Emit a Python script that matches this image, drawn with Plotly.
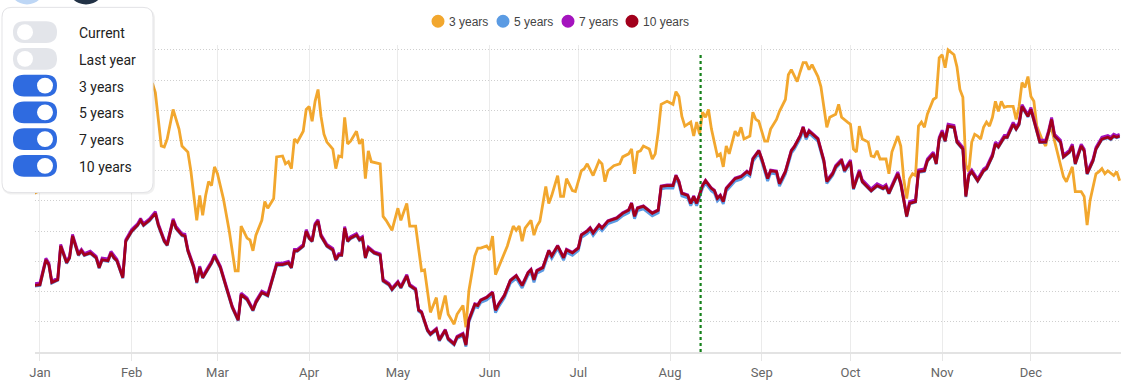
import pandas as pd
import plotly.graph_objects as go

# ---------------- data ----------------
year_start = "2024-01-01"
month_ticks = ["Jan", "Feb", "Mar", "Apr", "May", "Jun", "Jul", "Aug", "Sep", "Oct", "Nov", "Dec"]
series_names = ["3 years", "5 years", "7 years", "10 years"]
toggle_labels = ["Current", "Last year", "3 years", "5 years", "7 years", "10 years"]
toggle_on = [False, False, True, True, True, True]
marker_date = "2024-08-11 08:00"

# day offsets (from Jan 1) for the 5/7/10-year series
days_long = [
    -2, 0, 2, 3, 4, 6, 7, 9, 10, 11,
    13, 14, 15, 17, 19, 20, 21, 23, 24, 25,
    26, 28, 29, 31, 33, 34, 35, 37, 39, 40,
    42, 43, 45, 46, 48, 49, 50, 52, 53, 54,
    55, 57, 58, 59, 61, 63, 65, 67, 68, 70,
    72, 73, 75, 77, 78, 80, 82, 84, 85, 86,
    87, 89, 90, 91, 92, 93, 94, 95, 97, 99,
    100, 101, 102, 103, 104, 105, 107, 108, 109, 110,
    111, 113, 115, 116, 118, 119, 121, 122, 124, 125,
    127, 128, 129, 131, 132, 134, 135, 137, 138, 140,
    141, 143, 144, 145, 147, 148, 149, 151, 153, 154,
    155, 157, 159, 161, 163, 165, 166, 167, 168, 170,
    172, 173, 175, 177, 178, 180, 182, 183, 185, 186,
    187, 189, 190, 192, 195, 197, 199, 200, 201, 202,
    204, 206, 207, 209, 210, 212, 214, 215, 216, 217,
    219, 220, 221, 222, 224, 225, 227, 228, 229, 230,
    231, 232, 233, 235, 237, 238, 239, 240, 241, 243,
    244, 246, 247, 249, 250, 252, 254, 255, 257, 258,
    259, 260, 262, 263, 265, 266, 268, 269, 271, 272,
    274, 275, 277, 278, 281, 283, 285, 286, 287, 290,
    291, 293, 294, 296, 297, 299, 300, 302, 303, 304,
    305, 306, 307, 309, 310, 312, 313, 314, 315, 317,
    319, 320, 322, 323, 324, 326, 327, 329, 330, 331,
    332, 334, 335, 336, 338, 340, 341, 342, 343, 345,
    346, 348, 349, 350, 352, 353, 354, 356, 357, 359,
    361, 362, 363, 364, 365,
]

values_10y = [
    22.0, 22.3, 30.5, 28.9, 23.0, 23.9, 35.1, 29.5, 31.2, 38.4,
    32.1, 33.5, 32.1, 32.8, 31.2, 27.9, 30.5, 30.2, 32.8, 31.2,
    30.2, 24.6, 36.7, 40.0, 42.0, 43.6, 42.0, 43.6, 45.9, 42.0,
    36.7, 35.4, 43.6, 41.0, 38.7, 38.4, 33.5, 27.9, 23.0, 27.9,
    24.6, 27.9, 29.5, 31.8, 27.9, 21.3, 14.8, 10.5, 19.0, 17.4,
    13.8, 16.4, 19.7, 18.7, 22.0, 28.9, 28.9, 29.5, 27.9, 33.5,
    33.5, 35.1, 40.0, 37.7, 36.7, 42.0, 43.3, 38.4, 35.1, 33.8,
    30.5, 32.1, 32.1, 41.0, 36.7, 37.7, 38.7, 37.1, 37.7, 31.2,
    34.4, 32.8, 32.1, 23.6, 22.3, 20.7, 23.0, 21.3, 25.2, 22.0,
    20.7, 13.8, 13.1, 7.2, 5.9, 7.5, 3.9, 7.2, 4.3, 2.6,
    4.9, 5.9, 2.3, 10.5, 15.7, 15.4, 17.1, 18.0, 19.7, 13.8,
    15.7, 18.7, 23.6, 25.2, 22.0, 26.2, 27.2, 23.9, 26.9, 27.9,
    33.5, 31.8, 35.1, 31.2, 33.8, 32.8, 34.4, 38.7, 40.0, 41.0,
    39.4, 42.0, 41.0, 43.3, 44.3, 45.9, 46.9, 49.2, 44.9, 47.6,
    48.2, 46.6, 45.9, 46.9, 54.8, 55.1, 55.1, 58.4, 56.4, 52.5,
    51.8, 49.2, 51.5, 49.2, 55.1, 56.7, 54.1, 53.4, 50.8, 51.8,
    49.8, 54.1, 55.1, 57.4, 58.0, 59.0, 59.7, 59.0, 63.9, 66.6,
    63.9, 57.4, 60.0, 59.7, 55.7, 59.7, 66.6, 67.9, 71.5, 74.4,
    71.1, 73.1, 71.5, 70.5, 63.3, 56.4, 59.0, 61.3, 63.3, 60.0,
    63.0, 54.1, 59.7, 56.4, 53.4, 55.1, 54.1, 54.8, 52.5, 59.0,
    55.7, 44.9, 49.2, 49.8, 59.7, 60.0, 63.3, 65.6, 62.3, 70.5,
    72.8, 69.8, 74.8, 74.4, 69.5, 67.2, 51.5, 58.4, 59.7, 56.7,
    60.0, 60.7, 64.9, 68.9, 67.9, 71.1, 71.1, 75.4, 73.8, 75.4,
    81.3, 78.0, 80.3, 76.4, 69.5, 69.5, 72.8, 77.0, 71.5, 69.5,
    64.6, 66.2, 68.2, 62.3, 68.2, 66.6, 59.0, 63.3, 67.2, 70.5,
    71.1, 70.5, 71.5, 71.1, 71.5,
]

values_7y = [
    22.6, 22.9, 31.0, 29.5, 23.4, 24.5, 35.6, 30.0, 31.7, 38.9,
    32.7, 34.0, 32.6, 33.4, 31.7, 28.4, 31.1, 30.8, 33.3, 31.8,
    30.7, 25.1, 37.2, 40.6, 42.5, 44.2, 42.5, 44.1, 46.5, 42.5,
    37.2, 36.0, 44.1, 41.6, 39.2, 39.0, 34.0, 28.4, 23.5, 28.4,
    25.1, 28.4, 30.0, 32.3, 28.4, 21.8, 15.2, 10.9, 19.5, 17.9,
    14.2, 16.9, 20.2, 19.2, 22.5, 29.4, 29.4, 30.0, 28.4, 34.0,
    34.0, 35.6, 40.5, 38.2, 37.2, 42.5, 43.8, 38.9, 35.6, 34.3,
    31.0, 32.6, 32.6, 41.5, 37.2, 38.2, 39.2, 37.6, 38.2, 31.7,
    34.8, 33.2, 32.5, 24.0, 22.7, 21.1, 23.4, 21.7, 25.6, 22.4,
    21.0, 14.1, 13.4, 7.5, 6.2, 7.8, 4.2, 7.5, 4.6, 2.9,
    5.2, 6.2, 2.6, 10.8, 16.0, 15.7, 17.3, 18.2, 19.9, 14.0,
    15.9, 18.9, 23.8, 25.4, 22.2, 26.4, 27.4, 24.1, 27.1, 28.1,
    33.7, 32.0, 35.3, 31.4, 34.0, 33.0, 34.6, 38.9, 40.2, 41.2,
    39.6, 42.2, 41.2, 43.5, 44.5, 46.1, 47.1, 49.4, 45.1, 47.8,
    48.4, 46.8, 46.1, 47.1, 55.0, 55.3, 55.3, 58.6, 56.6, 52.7,
    52.0, 49.4, 51.7, 49.4, 55.3, 56.9, 54.3, 53.6, 51.0, 52.0,
    50.0, 54.3, 55.3, 57.6, 58.2, 59.2, 59.9, 59.2, 64.1, 66.8,
    64.1, 57.6, 60.2, 59.9, 55.9, 59.9, 66.8, 68.1, 71.7, 74.6,
    71.4, 73.4, 71.8, 70.8, 63.6, 56.8, 59.4, 61.7, 63.8, 60.5,
    63.6, 54.7, 60.3, 57.0, 54.0, 55.7, 54.7, 55.4, 53.1, 59.6,
    56.3, 45.5, 49.8, 50.4, 60.3, 60.6, 63.9, 66.2, 62.9, 71.1,
    73.4, 70.4, 75.4, 75.0, 70.1, 67.8, 52.1, 59.0, 60.3, 57.3,
    60.6, 61.3, 65.5, 69.5, 68.5, 71.7, 71.7, 76.0, 74.4, 76.0,
    81.9, 78.6, 80.9, 77.0, 70.1, 70.1, 73.4, 77.6, 72.1, 70.1,
    65.2, 66.8, 68.8, 62.9, 68.8, 67.2, 59.6, 63.9, 67.8, 71.1,
    71.7, 71.1, 72.1, 71.7, 72.1,
]

values_5y = [
    21.8, 22.0, 30.2, 28.7, 22.8, 23.7, 34.9, 29.3, 31.0, 38.2,
    31.9, 33.3, 31.9, 32.6, 31.0, 27.7, 30.3, 30.0, 32.6, 31.0,
    30.0, 24.4, 36.5, 39.8, 41.8, 43.4, 41.8, 43.4, 45.7, 41.8,
    36.5, 35.2, 43.4, 40.8, 38.5, 38.2, 33.3, 27.7, 22.8, 27.7,
    24.4, 27.7, 29.3, 31.6, 27.7, 21.1, 14.6, 10.3, 18.8, 17.2,
    13.6, 16.2, 19.5, 18.5, 21.8, 28.7, 28.7, 29.3, 27.7, 33.3,
    33.3, 34.9, 39.8, 37.5, 36.5, 41.8, 43.1, 38.2, 34.9, 33.6,
    30.3, 31.9, 31.9, 40.8, 36.5, 37.5, 38.5, 36.9, 37.5, 31.0,
    34.2, 32.6, 31.9, 23.4, 22.1, 20.5, 22.8, 21.1, 25.0, 21.8,
    20.4, 13.5, 12.8, 6.9, 5.6, 7.2, 3.6, 6.9, 4.0, 2.3,
    4.5, 5.4, 1.8, 9.9, 15.0, 14.7, 16.4, 17.2, 18.9, 13.0,
    14.9, 17.9, 22.8, 24.4, 21.2, 25.4, 26.4, 23.1, 26.1, 27.1,
    32.7, 31.0, 34.3, 30.4, 33.0, 32.0, 33.6, 37.9, 39.2, 40.2,
    38.6, 41.2, 40.2, 42.5, 43.5, 45.1, 46.1, 48.4, 44.1, 46.8,
    47.4, 45.8, 45.1, 46.1, 54.0, 54.3, 54.3, 57.6, 55.6, 51.7,
    51.0, 48.4, 50.7, 48.4, 54.3, 55.9, 53.3, 52.6, 50.0, 51.0,
    49.0, 53.3, 54.3, 56.6, 57.2, 58.2, 58.9, 58.2, 63.1, 65.8,
    63.1, 56.6, 59.2, 58.9, 54.9, 58.9, 65.8, 67.1, 70.7, 73.6,
    70.4, 72.4, 70.8, 69.8, 62.7, 55.8, 58.5, 60.8, 62.9, 59.6,
    62.7, 53.8, 59.5, 56.2, 53.2, 54.9, 53.9, 54.6, 52.3, 58.8,
    55.5, 44.7, 49.0, 49.6, 59.5, 59.8, 63.1, 65.4, 62.1, 70.3,
    72.6, 69.6, 74.6, 74.2, 69.3, 67.0, 51.3, 58.2, 59.5, 56.5,
    59.8, 60.5, 64.7, 68.7, 67.7, 70.9, 70.9, 75.2, 73.6, 75.2,
    81.1, 77.8, 80.1, 76.2, 69.3, 69.3, 72.6, 76.8, 71.3, 69.3,
    64.4, 66.0, 68.0, 62.1, 68.0, 66.4, 58.8, 63.1, 67.0, 70.3,
    70.9, 70.3, 71.3, 70.9, 71.3,
]

days_3y = [
    -2, 0, 3, 6, 9, 12, 15, 18, 21, 24, 27, 30, 33, 36, 38, 39, 40, 41, 42, 43,
    45, 47, 48, 50, 51, 52, 53, 54, 55, 56, 57, 58, 59, 60, 62, 64, 66, 67, 68, 70,
    71, 72, 73, 75, 76, 77, 79, 80, 82, 83, 84, 85, 86, 87, 89, 90, 91, 92, 93, 94,
    95, 96, 97, 99, 100, 101, 102, 103, 104, 105, 107, 108, 109, 110, 111, 112, 115, 116, 117, 119,
    121, 122, 124, 125, 127, 129, 130, 132, 134, 135, 137, 138, 140, 141, 143, 144, 145, 147, 148, 149,
    151, 152, 153, 154, 156, 158, 160, 161, 162, 163, 164, 166, 167, 168, 169, 171, 172, 173, 175, 176,
    177, 178, 180, 181, 183, 184, 185, 187, 189, 190, 191, 192, 194, 196, 197, 199, 200, 201, 202, 203,
    204, 206, 207, 208, 209, 210, 212, 214, 215, 216, 217, 218, 220, 221, 222, 223, 224, 225, 226, 227,
    229, 230, 231, 232, 233, 235, 236, 237, 238, 240, 241, 242, 243, 245, 246, 247, 249, 250, 252, 253,
    254, 256, 257, 258, 259, 260, 261, 263, 264, 265, 266, 267, 269, 270, 271, 273, 274, 275, 276, 277,
    278, 280, 281, 282, 283, 284, 286, 287, 288, 290, 291, 292, 293, 294, 295, 296, 297, 298, 299, 300,
    302, 303, 304, 305, 306, 307, 309, 310, 311, 312, 313, 314, 315, 316, 317, 318, 319, 320, 321, 322,
    323, 324, 325, 326, 327, 329, 330, 331, 332, 333, 334, 335, 336, 337, 339, 340, 341, 342, 344, 346,
    347, 349, 350, 352, 353, 354, 355, 357, 358, 359, 360, 361, 363, 364, 365,
]

values_3y = [
    52.5, 53.5, 60.0, 58.0, 66.0, 64.0, 71.0, 69.0, 75.0, 73.0, 79.0, 77.0, 83.0, 86.0, 89.0, 85.9, 77.0, 68.2, 67.9, 70.5,
    80.3, 73.8, 68.2, 66.2, 60.0, 51.8, 43.6, 51.8, 45.3, 51.8, 56.4, 55.1, 61.3, 59.0, 50.8, 40.0, 26.9, 26.9, 41.7, 37.7,
    37.1, 33.5, 38.7, 43.6, 49.8, 47.6, 50.8, 64.6, 64.9, 62.3, 63.0, 60.7, 70.5, 69.5, 73.1, 80.3, 81.3, 76.4, 83.0, 86.9,
    78.0, 72.1, 69.5, 67.2, 60.7, 64.9, 64.6, 77.7, 68.9, 69.8, 73.1, 68.9, 70.5, 57.4, 66.6, 63.0, 62.3, 44.9, 43.6, 40.3,
    47.6, 43.6, 49.2, 41.7, 41.7, 26.9, 27.2, 13.1, 18.0, 10.8, 18.7, 12.5, 9.2, 12.5, 15.4, 8.2, 20.3, 31.8, 34.4, 34.4,
    35.1, 33.8, 38.4, 25.6, 30.5, 35.1, 41.7, 40.3, 41.7, 36.7, 41.0, 43.6, 38.7, 41.7, 43.3, 54.8, 49.2, 51.8, 58.4, 51.5,
    51.5, 57.4, 53.4, 53.1, 60.0, 60.7, 62.3, 58.4, 63.3, 62.3, 56.4, 60.0, 61.7, 62.3, 64.6, 65.6, 67.2, 59.0, 66.2, 66.6,
    68.2, 67.2, 63.9, 65.6, 72.8, 82.0, 83.0, 82.0, 86.2, 84.6, 78.0, 74.8, 76.1, 71.5, 76.1, 72.1, 79.4, 77.7, 80.3, 73.8,
    64.9, 65.6, 61.3, 68.2, 65.6, 73.1, 71.5, 74.4, 70.5, 71.5, 79.4, 77.0, 76.4, 69.8, 69.8, 73.8, 77.0, 79.7, 83.6, 91.8,
    93.5, 89.5, 92.8, 95.8, 95.8, 93.5, 95.1, 91.2, 87.9, 81.3, 74.4, 77.7, 78.7, 82.0, 77.7, 76.1, 75.4, 67.2, 66.2, 74.8,
    70.5, 69.5, 64.9, 64.6, 66.6, 63.9, 63.9, 59.0, 66.2, 71.5, 68.2, 57.4, 50.8, 57.4, 59.0, 58.4, 74.8, 76.1, 74.4, 78.7,
    83.6, 84.3, 97.4, 98.4, 94.1, 100.0, 98.4, 94.4, 86.9, 84.3, 62.0, 59.7, 69.5, 72.1, 71.5, 70.5, 74.4, 76.1, 74.8, 77.7,
    83.0, 79.7, 83.0, 81.0, 81.3, 81.3, 77.0, 81.3, 89.2, 87.6, 91.2, 84.6, 83.0, 74.8, 69.8, 68.2, 72.8, 73.8, 65.6, 58.0,
    56.4, 61.3, 53.1, 53.1, 51.5, 42.0, 50.2, 59.0, 59.7, 60.7, 59.0, 60.0, 58.4, 59.7, 56.7,
]

assert len(days_long) == len(values_10y) == len(values_7y) == len(values_5y)
assert len(days_3y) == len(values_3y)

# ---------------- styling ----------------
COLORS = {"3 years": "#F2A72E", "5 years": "#5B9BE3", "7 years": "#A414BE", "10 years": "#A2001C"}
W, H = 1132, 391
PL, PR, PT, PB = 35, 1121, 45, 355

t0 = pd.Timestamp(year_start)
def to_dates(days):
    return [t0 + pd.Timedelta(days=d) for d in days]

x_long = to_dates(days_long)
x_3y = to_dates(days_3y)

def fx(p):
    return (p - PL) / (PR - PL)

def fy(p):
    return (PB - p) / (PB - PT)

def rrect(x0, y0, x1, y1, r):
    pts = [
        ("M", x0 + r, y0), ("L", x1 - r, y0), ("Q", x1, y0, x1, y0 + r),
        ("L", x1, y1 - r), ("Q", x1, y1, x1 - r, y1), ("L", x0 + r, y1),
        ("Q", x0, y1, x0, y1 - r), ("L", x0, y0 + r), ("Q", x0, y0, x0 + r, y0),
    ]
    out = []
    for p in pts:
        cmd = p[0]
        coords = p[1:]
        s = []
        for i in range(0, len(coords), 2):
            s.append(f"{fx(coords[i]):.5f},{fy(coords[i + 1]):.5f}")
        out.append(cmd + " ".join(s))
    return " ".join(out) + " Z"

fig = go.Figure()

line_series = [
    ("3 years", x_3y, values_3y),
    ("5 years", x_long, values_5y),
    ("7 years", x_long, values_7y),
    ("10 years", x_long, values_10y),
]
for name, xs, ys in line_series:
    fig.add_trace(go.Scatter(
        x=xs, y=ys, mode="lines", name=name, showlegend=False,
        line=dict(color=COLORS[name], width=2.8), hoverinfo="skip",
    ))

shapes = []
annotations = []

# legend (circle + label) at top centre
legend_x = [438, 503, 568, 632]
for name, lx in zip(series_names, legend_x):
    shapes.append(dict(type="circle", xref="paper", yref="paper", layer="above",
                       x0=fx(lx - 6.5), x1=fx(lx + 6.5), y0=fy(27.5), y1=fy(14.5),
                       fillcolor=COLORS[name], line=dict(width=0)))
    annotations.append(dict(text=name, xref="paper", yref="paper", x=fx(lx + 9), y=fy(21.5),
                            xanchor="left", yanchor="middle", showarrow=False,
                            font=dict(family="Liberation Sans, Arial", size=12, color="#444444")))

# vertical marker
shapes.append(dict(type="line", xref="x", yref="y", x0=marker_date, x1=marker_date,
                   y0=0, y1=99.3, line=dict(color="#15801A", width=2.2, dash="dot")))
# avatar circles cut off at top
shapes.append(dict(type="circle", xref="paper", yref="paper", layer="above",
                   x0=fx(9), x1=fx(45), y0=fy(4), y1=fy(-32),
                   fillcolor="#BDD6F5", line=dict(width=0)))
shapes.append(dict(type="circle", xref="paper", yref="paper", layer="above",
                   x0=fx(67), x1=fx(105), y0=fy(4), y1=fy(-34),
                   fillcolor="#223246", line=dict(width=0)))
# panel shadow + panel
shapes.append(dict(type="path", xref="paper", yref="paper", layer="above",
                   path=rrect(2, 8, 155, 196, 11), fillcolor="rgba(0,0,0,0.06)",
                   line=dict(width=0)))
shapes.append(dict(type="path", xref="paper", yref="paper", layer="above",
                   path=rrect(2, 7, 153, 194, 10), fillcolor="white",
                   line=dict(color="#E3E3E6", width=1)))

for i, (lab, on) in enumerate(zip(toggle_labels, toggle_on)):
    cy = 32 + i * 27
    shapes.append(dict(type="path", xref="paper", yref="paper", layer="above",
                       path=rrect(13, cy - 11, 57, cy + 11, 11),
                       fillcolor="#2F6BE0" if on else "#E3E5EA", line=dict(width=0)))
    kx = 45 if on else 25
    shapes.append(dict(type="circle", xref="paper", yref="paper", layer="above",
                       x0=fx(kx - 8), x1=fx(kx + 8), y0=fy(cy + 8), y1=fy(cy - 8),
                       fillcolor="white", line=dict(width=0)))
    annotations.append(dict(text=lab, xref="paper", yref="paper", x=fx(77), y=fy(cy + 1),
                            xanchor="left", yanchor="middle", showarrow=False,
                            font=dict(family="Roboto", size=14, color="#222222")))

fig.update_layout(
    width=W, height=H,
    margin=dict(l=PL, r=W - PR, t=PT, b=H - PB, pad=0),
    paper_bgcolor="white", plot_bgcolor="white",
    shapes=shapes, annotations=annotations,
    showlegend=False,
    xaxis=dict(
        type="date",
        range=["2023-12-30 07:30", "2024-12-31 11:00"],
        tickmode="array",
        tickvals=[f"2024-{m:02d}-01" for m in range(1, 13)],
        ticktext=month_ticks,
        showgrid=True, gridcolor="#EBEBEB", gridwidth=1,
        ticks="outside", ticklen=7, tickcolor="#E6E6E6",
        showline=True, linecolor="#E3E3E3", linewidth=2,
        tickfont=dict(family="Roboto", size=13, color="#666666"),
        zeroline=False, fixedrange=True,
    ),
    yaxis=dict(
        range=[0, 101.64], tick0=0, dtick=10,
        showgrid=True, gridcolor="#CFCFCF", gridwidth=1, griddash="1px,2px",
        showticklabels=False, zeroline=False, showline=False, ticks="",
        fixedrange=True,
    ),
)

fig.write_html(
    "out.html",
    config={"displayModeBar": False},
    post_script="document.body.style.margin='0';document.body.style.overflow='hidden';",
)
